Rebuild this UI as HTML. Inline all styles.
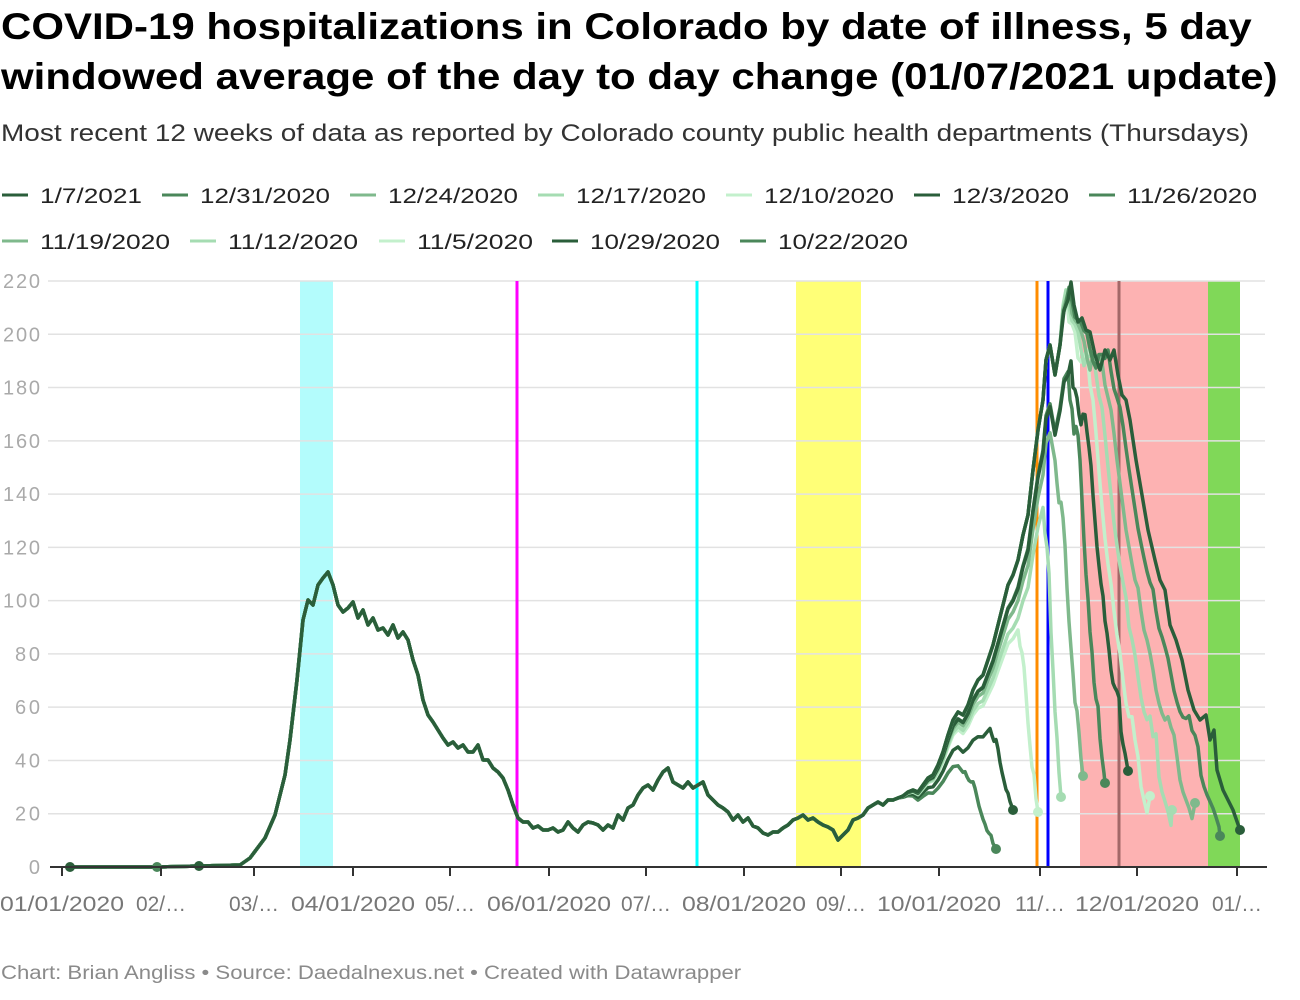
<!DOCTYPE html>
<html><head><meta charset="utf-8"><style>
body{margin:0;background:#fff;font-family:"Liberation Sans",sans-serif;}
#w{position:relative;width:1300px;height:1000px;overflow:hidden}
.t{position:absolute;left:1px;transform-origin:0 0;white-space:nowrap}
h1{margin:0;font-size:37px;line-height:50px;font-weight:bold;color:#000;top:2px;transform:scaleX(1.135)}
.sub{top:120px;font-size:24px;color:#333;transform:scaleX(1.165)}
.foot{top:963px;font-size:19px;color:#8a8a8a;transform:scaleX(1.165)}
</style></head><body><div id="w">
<h1 class="t">COVID-19 hospitalizations in Colorado by date of illness, 5 day<br>windowed average of the day to day change (01/07/2021 update)</h1>
<div class="t sub">Most recent 12 weeks of data as reported by Colorado county public health departments (Thursdays)</div>
<svg id="s" width="1300" height="1000" style="position:absolute;left:0;top:0" font-family="Liberation Sans, sans-serif"></svg>
<div class="t foot">Chart: Brian Angliss • Source: Daedalnexus.net • Created with Datawrapper</div>
</div>
<script>
var s=document.getElementById('s'),h='';
var lg=[[40,195,'1/7/2021',102,'#2a5e3a'],[200,195,'12/31/2020',130,'#4a875a'],[388,195,'12/24/2020',130,'#7fb98c'],[576,195,'12/17/2020',130,'#a5dcb2'],[764,195,'12/10/2020',130,'#c3f0cc'],[952,195,'12/3/2020',117,'#2a5e3a'],[1127,195,'11/26/2020',130,'#4a875a'],
[40,241,'11/19/2020',130,'#7fb98c'],[228,241,'11/12/2020',130,'#a5dcb2'],[417,241,'11/5/2020',116,'#c3f0cc'],[590,241,'10/29/2020',130,'#2a5e3a'],[778,241,'10/22/2020',130,'#4a875a']];
lg.forEach(function(l){h+='<line x1="'+(l[0]-38)+'" x2="'+(l[0]-12)+'" y1="'+l[1]+'" y2="'+l[1]+'" stroke="'+l[4]+'" stroke-width="3"/><text x="'+l[0]+'" y="'+(l[1]+8)+'" font-size="21" fill="#222" textLength="'+l[3]+'" lengthAdjust="spacingAndGlyphs">'+l[2]+'</text>';});
function Y(v){return 867-v*586/220;}
h+='<rect x="300" y="281" width="33" height="586" fill="#b3fcfc"/>';
h+='<rect x="796" y="281" width="65" height="586" fill="#ffff77"/>';
h+='<rect x="1080" y="281" width="128" height="586" fill="#fdb2b2"/>';
h+='<rect x="1208" y="281" width="32" height="586" fill="#80d858"/>';
for(var v=0;v<=220;v+=20){var y=Y(v);if(v>0)h+='<line x1="48" x2="1265" y1="'+y+'" y2="'+y+'" stroke="#e2e2e2" stroke-width="1.5"/>';
h+='<text x="40" y="'+(y+7)+'" font-size="20" fill="#aaa" text-anchor="end" textLength="'+(v<10?12:v<100?25:37)+'">'+v+'</text>';}
h+='<line x1="517" x2="517" y1="281" y2="867" stroke="#f0f" stroke-width="3"/>';
h+='<line x1="697" x2="697" y1="281" y2="867" stroke="#0ff" stroke-width="3"/>';
h+='<line x1="1037" x2="1037" y1="281" y2="867" stroke="#ff8c00" stroke-width="3"/>';
h+='<line x1="1048" x2="1048" y1="281" y2="867" stroke="#00f" stroke-width="3"/>';
h+='<line x1="1119" x2="1119" y1="281" y2="867" stroke="#a36868" stroke-width="3"/>';
var m=[[70,867],[157,867],[200,866],[240,865],[250,858],[265,838],[275,815],[285,775],[290,740],[297,680],[303,620],[308,600],[313,605],[318,585],[323,578],[328,572],[333,585],[338,605],[343,612],[348,608],[353,602],[358,618],[363,610],[368,625],[373,618],[378,630],[383,628],[388,635],[393,625],[398,638],[403,632],[408,640],[413,660],[418,675],[423,700],[428,715],[433,722],[438,730],[443,738],[448,745],[453,742],[458,748],[463,745],[468,752],[473,752],[478,745],[483,760],[488,760],[493,768],[498,772],[503,778],[508,790],[513,805],[518,818],[523,822],[528,822],[533,828],[538,826],[543,830],[548,830],[553,828],[558,832],[563,830],[568,822],[573,828],[578,832],[583,825],[588,822],[593,823],[598,825],[603,830],[608,825],[613,828],[618,815],[623,820],[628,808],[633,805],[638,795],[643,788],[648,785],[653,790],[658,780],[663,772],[668,768],[673,782],[678,785],[683,788],[688,782],[693,788],[698,785],[703,782],[708,795],[713,800],[718,805],[723,808],[728,812],[733,820],[738,815],[743,822],[748,818],[753,826],[758,828],[763,833],[768,835],[773,832],[778,832],[783,828],[788,825],[793,820],[798,818],[803,815],[808,820],[813,818],[818,822],[823,825],[828,827],[833,830],[838,840],[843,835],[848,830],[853,820],[858,818],[863,815],[868,808],[873,805],[878,802],[883,805],[888,800],[893,800],[898,798],[903,796],[908,792],[913,790],[918,792],[923,785],[928,778],[933,775],[938,765],[943,752],[948,735],[953,720],[958,712],[963,715],[968,705],[973,690],[978,680],[983,675],[988,660],[993,645],[998,625],[1003,605],[1008,585],[1013,575],[1018,560],[1023,535],[1028,515],[1033,470],[1038,430],[1043,400],[1046,360],[1050,345],[1055,375],[1060,345],[1064,310],[1068,300],[1071,282],[1074,305],[1078,322],[1082,318],[1086,330],[1090,332],[1095,355],[1100,370],[1105,350],[1110,360],[1114,350],[1118,375],[1122,395],[1126,400],[1130,420],[1136,460],[1142,495],[1148,530],[1155,560],[1160,580],[1165,590],[1170,625],[1176,640],[1182,660],[1188,690],[1194,710],[1200,720],[1206,715],[1210,740],[1214,730],[1217,770],[1223,790],[1228,800],[1233,810],[1240,830]];
function mv(x){if(x<=m[0][0])return 0;for(var i=1;i<m.length;i++){if(x<=m[i][0]){var a=m[i-1],b=m[i],f=(x-a[0])/(b[0]-a[0]);return 867-(a[1]+(b[1]-a[1])*f);}}return 867-m[m.length-1][1];}
var PK=mv(1071),EN=mv(1240);
var vs=[[996,849,38,'#4a875a',965],[1013,810,52,'#2a5e3a',990],[1038,812,89,'#c3f0cc',1018],[1061,797,135,'#a5dcb2',1043],[1083,776,163,'#7fb98c',1055],[1105,783,186,'#4a875a',1068],[1128,771,190,'#2a5e3a',1071],[1150,796,200,'#c3f0cc'],[1172,810,203,'#a5dcb2'],[1195,803,206,'#7fb98c'],[1220,836,212,'#4a875a']];
vs.forEach(function(v){var xe=v[0],ye=v[1],tp=v[2]*586/220,p=[];
if(xe<=1128){
 var x1=v[4],st=Math.min(900,x1-60),xsArr=[];
 m.forEach(function(q){if(q[0]<x1)xsArr.push(q[0]);});xsArr.push(x1);
 function gen(k){return xsArr.map(function(x){var f=x<st?1:1-(1-k)*(x-st)/(x1-st);return mv(x)*f;});}
 var lo=0.05,hi=1.0;for(var it=0;it<40;it++){var mid=(lo+hi)/2,mx=Math.max.apply(null,gen(mid).slice(-12));if(mx>tp)hi=mid;else lo=mid;}
 var vals=gen((lo+hi)/2);
 xsArr.forEach(function(x,i){p.push(x+','+(867-vals[i]).toFixed(1));});
 var v1=vals[vals.length-1],ve=867-ye;
 for(var x=x1+2;x<xe;x+=2){var u=(x-x1)/(xe-x1),fr=(mv(1071+u*169)-EN)/(PK-EN);p.push(x+','+(867-(ve+fr*(v1-ve))).toFixed(1));}
}else{
 var xs=1060,D=1240-xe;
 m.forEach(function(q){if(q[0]<xs)p.push(q[0]+','+q[1]);});
 for(var x=xs;x<xe;x+=3){var t=(x-xs)/(xe-xs);p.push(x+','+(867-mv(x+t*D)).toFixed(1));}
}
p.push(xe+','+ye);
h+='<polyline points="'+p.join(' ')+'" fill="none" stroke="'+v[3]+'" stroke-width="3.5" stroke-linejoin="round"/>';
h+='<circle cx="'+xe+'" cy="'+ye+'" r="5" fill="'+v[3]+'"/>';});
h+='<polyline points="'+m.map(function(q){return q.join(',')}).join(' ')+'" fill="none" stroke="#2a5e3a" stroke-width="3.5" stroke-linejoin="round"/>';
h+='<circle cx="1240" cy="830" r="5" fill="#2a5e3a"/><circle cx="70" cy="867" r="5" fill="#2a5e3a"/><circle cx="157" cy="867" r="5" fill="#4a875a"/><circle cx="199" cy="866" r="5" fill="#2a5e3a"/>';
h+='<line x1="50" x2="1267" y1="867" y2="867" stroke="#333" stroke-width="2"/>';
var tk=[[62,'01/01/2020'],[161,'02/…'],[254,'03/…'],[353,'04/01/2020'],[450,'05/…'],[549,'06/01/2020'],[646,'07/…'],[744,'08/01/2020'],[841,'09/…'],[939,'10/01/2020'],[1040,'11/…'],[1137,'12/01/2020'],[1237,'01/…']];
tk.forEach(function(t){var L=t[1].length>5?124:50;h+='<line x1="'+t[0]+'" x2="'+t[0]+'" y1="867" y2="876" stroke="#333" stroke-width="2"/><text x="'+(t[0]-L/2)+'" y="911" font-size="21" fill="#777" textLength="'+L+'" lengthAdjust="spacingAndGlyphs">'+t[1]+'</text>';});
s.innerHTML=h;
</script>
</body></html>
